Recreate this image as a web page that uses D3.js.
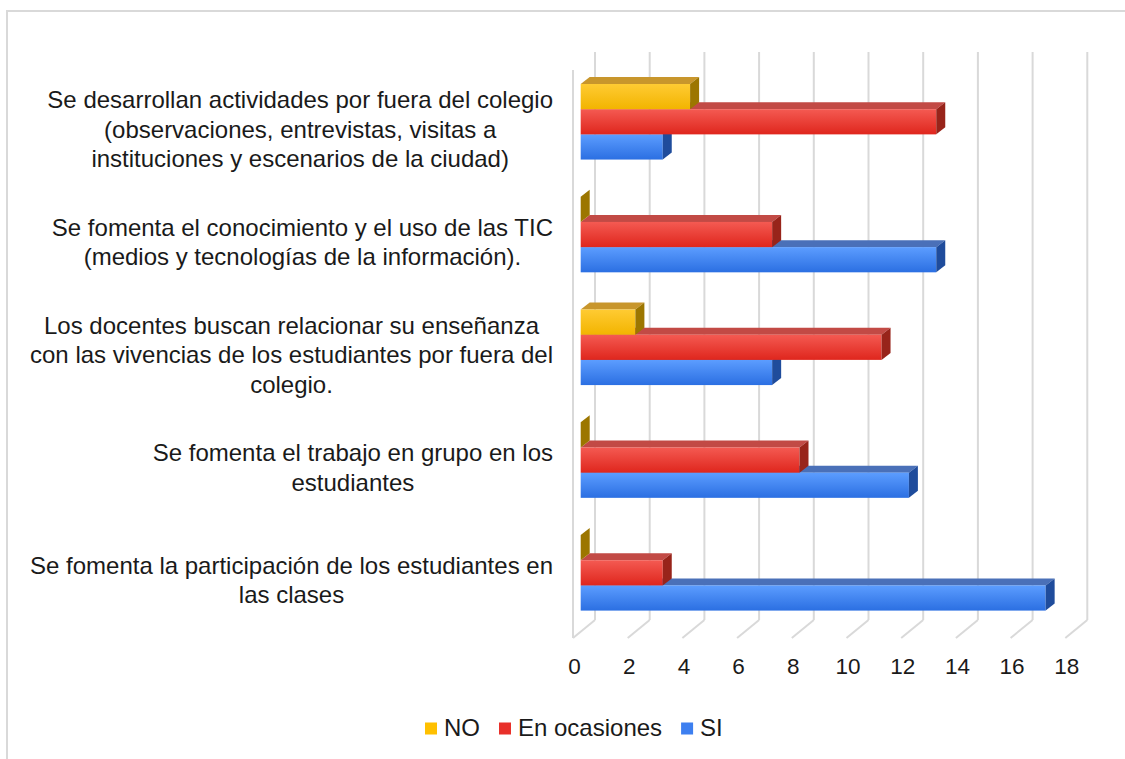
<!DOCTYPE html>
<html>
<head>
<meta charset="utf-8">
<script src="https://cdn.jsdelivr.net/npm/d3@7"></script>
<style>
  html, body { margin: 0; padding: 0; background: #fff; }
  svg { display: block; }
  text { font-family: "Liberation Sans", Arial, sans-serif; fill: #1a1a1a; }
</style>
</head>
<body>
<svg id="chart" width="1125" height="759"></svg>
<script>
// ---- Data ----
const categories = [
  "Se desarrollan actividades por fuera del colegio (observaciones, entrevistas, visitas a instituciones y escenarios de la ciudad)",
  "Se fomenta el conocimiento y el uso de las TIC (medios y tecnologías de la información).",
  "Los docentes buscan relacionar su enseñanza con las vivencias de los estudiantes por fuera del colegio.",
  "Se fomenta el trabajo en grupo en los estudiantes",
  "Se fomenta la participación de los estudiantes en las clases"
];
const categoryLines = [
  ["Se desarrollan actividades por fuera del colegio", "(observaciones, entrevistas, visitas a", "instituciones y escenarios de la ciudad)"],
  ["Se fomenta el conocimiento y el uso de las TIC", "(medios y tecnologías de la información)."],
  ["Los docentes buscan relacionar su enseñanza", "con las vivencias de los estudiantes por fuera del", "colegio."],
  ["Se fomenta el trabajo en grupo en los", "estudiantes"],
  ["Se fomenta la participación de los estudiantes en", "las clases"]
];
const seriesNames = ["NO", "En ocasiones", "SI"];
const noValues = [4, 0, 2, 0, 0];
const enOcasionesValues = [13, 7, 11, 8, 3];
const siValues = [3, 13, 7, 12, 17];
const tickValues = [0, 2, 4, 6, 8, 10, 12, 14, 16, 18];

// ---- Styles ----
const palette = {
  "NO":           { top: "#ffcb33", bottom: "#f2b400", cap: "#c8962c", side: "#9c7600", legend: "#ffc000" },
  "En ocasiones": { top: "#f45a52", bottom: "#df261d", cap: "#c24a45", side: "#98241a", legend: "#e8302a" },
  "SI":           { top: "#5c9dff", bottom: "#2b6fe2", cap: "#4a70b8", side: "#1f4c9c", legend: "#3d7ff0" }
};
const seriesValues = { "NO": noValues, "En ocasiones": enOcasionesValues, "SI": siValues };

const svg = d3.select("#chart");
const gridColor = "#d9d9d9";

// frame
svg.append("path")
  .attr("d", "M7,759 L7,11 L1125,11")
  .attr("fill", "none").attr("stroke", gridColor).attr("stroke-width", 2);

// ---- Scales ----
const x = d3.scaleLinear().domain([0, 18]).range([573, 573 + 18 * 27.35]);
const y = d3.scaleBand().domain(categories).range([65.4, 629.2]).paddingInner(0.33).paddingOuter(0.165);
const ySub = d3.scaleBand().domain(seriesNames).range([0, y.bandwidth()]);

const floorY = 638, depthDX = 22, depthDY = -18, wallTop = 70;
const barDX = 9, barDY = -7, barOffset = 7.7;

// ---- Grid (3D walls) ----
const grid = svg.append("g");
grid.append("line")
  .attr("x1", x(0)).attr("x2", x(0)).attr("y1", wallTop).attr("y2", floorY)
  .attr("stroke", gridColor).attr("stroke-width", 2);
tickValues.forEach(v => {
  grid.append("line")
    .attr("x1", x(v) + depthDX).attr("x2", x(v) + depthDX)
    .attr("y1", wallTop + depthDY).attr("y2", floorY + depthDY)
    .attr("stroke", gridColor).attr("stroke-width", 2);
  grid.append("line")
    .attr("x1", x(v)).attr("x2", x(v) + depthDX)
    .attr("y1", floorY).attr("y2", floorY + depthDY)
    .attr("stroke", gridColor).attr("stroke-width", 2);
});

// ---- Gradients ----
const defs = svg.append("defs");
seriesNames.forEach((s, i) => {
  const g = defs.append("linearGradient").attr("id", "grad" + i)
    .attr("x1", 0).attr("y1", 0).attr("x2", 0).attr("y2", 1);
  g.append("stop").attr("offset", "0%").attr("stop-color", palette[s].top);
  g.append("stop").attr("offset", "100%").attr("stop-color", palette[s].bottom);
});

// ---- Bars (draw bottom series first) ----
const bars = svg.append("g");
categories.forEach((c, ci) => {
  [...seriesNames].reverse().forEach(s => {
    const si = seriesNames.indexOf(s);
    const v = seriesValues[s][ci];
    const x0 = x(0) + barOffset, x1 = x(v) + barOffset;
    const yt = y(c) + ySub(s), h = ySub.bandwidth();
    const p = palette[s];
    const g = bars.append("g");
    if (v > 0) {
      g.append("path")
        .attr("d", `M${x0},${yt} L${x0 + barDX},${yt + barDY} L${x1 + barDX},${yt + barDY} L${x1},${yt} Z`)
        .attr("fill", p.cap);
      g.append("rect")
        .attr("x", x0).attr("y", yt).attr("width", x1 - x0).attr("height", h)
        .attr("fill", `url(#grad${si})`);
    }
    g.append("path")
      .attr("d", `M${x1},${yt} L${x1 + barDX},${yt + barDY} L${x1 + barDX},${yt + h + barDY} L${x1},${yt + h} Z`)
      .attr("fill", p.side);
  });
});

// ---- X axis tick labels ----
svg.append("g").selectAll("text").data(tickValues).join("text")
  .attr("x", d => x(d) + 1.5).attr("y", 674)
  .attr("text-anchor", "middle")
  .style("font-size", "22.5px")
  .text(d => d);

// ---- Category labels ----
const labelRight = 553, lineH = 29.5, labelFont = 24;
categories.forEach((c, ci) => {
  const lines = categoryLines[ci];
  const g = svg.append("g");
  const texts = lines.map(l => g.append("text").style("font-size", labelFont + "px").text(l));
  const maxW = d3.max(texts, t => t.node().getComputedTextLength());
  const cx = labelRight - maxW / 2;
  const cy = y(c) + y.bandwidth() / 2 + 7.5;
  const firstBaseline = cy - (lines.length - 1) * lineH / 2 + labelFont * 0.35;
  texts.forEach((t, i) => t.attr("x", cx).attr("y", firstBaseline + i * lineH).attr("text-anchor", "middle"));
});

// ---- Legend ----
const legend = svg.append("g");
let lx = 425;
seriesNames.forEach(s => {
  legend.append("rect").attr("x", lx).attr("y", 722.5).attr("width", 12).attr("height", 12)
    .attr("fill", palette[s].legend);
  const t = legend.append("text").attr("x", lx + 19).attr("y", 736)
    .style("font-size", "24px").text(s);
  lx += 19 + t.node().getComputedTextLength() + 19;
});
</script>
</body>
</html>
